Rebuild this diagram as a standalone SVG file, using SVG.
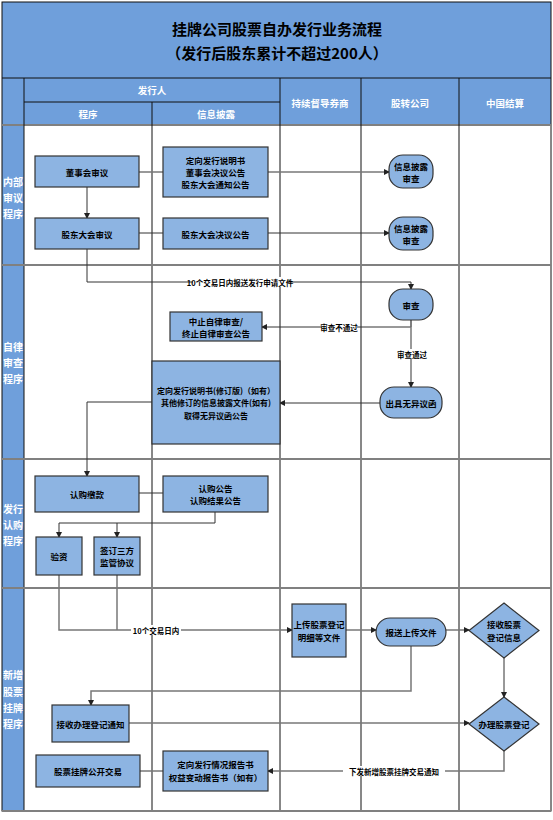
<svg xmlns="http://www.w3.org/2000/svg" width="553" height="820" viewBox="0 0 553 820">
<defs>
<marker id="ah" markerWidth="6" markerHeight="6" refX="5" refY="3" orient="auto" markerUnits="userSpaceOnUse">
<path d="M0,0 L6,3 L0,6 z" fill="#222"/>
</marker>
</defs>
<style>
text{font-family:"Noto Sans CJK SC","Noto Sans",sans-serif;font-weight:bold;text-anchor:middle;dominant-baseline:central}
.title{font-size:15px;fill:#000}
.hd{font-size:9.5px;fill:#fff}
.rl{font-size:10px;fill:#fff}
.bt{font-size:8.5px;fill:#000}
.lb{font-size:7.5px;fill:#000}
.box{fill:#8DB4E2;stroke:#333;stroke-width:1.2}
.grid{stroke:#111;stroke-width:1;fill:none}
.sec{stroke:#808080;stroke-width:2;fill:none}
.ln{stroke:#333;stroke-width:1;fill:none}
.lg{stroke:#777;stroke-width:1.5;fill:none}
.bg{fill:#fff}
</style>
<rect x="0" y="0" width="553" height="820" fill="#fff"/>
<g id="table">
<rect x="2" y="2" width="549" height="123" fill="#6F9FDB"/>
<rect x="2" y="125" width="22" height="686" fill="#6F9FDB"/>
<rect x="2" y="2" width="549" height="809" class="grid" stroke="#555"/>
<line x1="2" y1="78" x2="551" y2="78" class="grid"/>
<line x1="24" y1="102" x2="280" y2="102" class="grid"/>
<line x1="2" y1="125" x2="551" y2="125" class="sec"/>
<line x1="24" y1="78" x2="24" y2="811" class="grid"/>
<line x1="152" y1="102" x2="152" y2="811" class="grid"/>
<line x1="280" y1="78" x2="280" y2="811" class="grid"/>
<line x1="361" y1="78" x2="361" y2="811" class="grid"/>
<line x1="459" y1="78" x2="459" y2="811" class="grid"/>
<line x1="2" y1="265" x2="551" y2="265" class="sec"/>
<line x1="2" y1="459" x2="551" y2="459" class="sec"/>
<line x1="2" y1="588" x2="551" y2="588" class="sec"/>
<line x1="2" y1="811" x2="551" y2="811" class="sec"/>
<text class="title" x="277" y="28">挂牌公司股票自办发行业务流程</text>
<text class="title" x="277" y="52">（发行后股东累计不超过200人）</text>
<text class="hd" x="152" y="90">发行人</text>
<text class="hd" x="88" y="114">程序</text>
<text class="hd" x="216" y="114">信息披露</text>
<text class="hd" x="320" y="103">持续督导券商</text>
<text class="hd" x="410" y="103">股转公司</text>
<text class="hd" x="505" y="103">中国结算</text>
<text class="rl" x="13" y="181">内部</text>
<text class="rl" x="13" y="197">审议</text>
<text class="rl" x="13" y="213">程序</text>
<text class="rl" x="13" y="346">自律</text>
<text class="rl" x="13" y="362">审查</text>
<text class="rl" x="13" y="378">程序</text>
<text class="rl" x="13" y="508">发行</text>
<text class="rl" x="13" y="524">认购</text>
<text class="rl" x="13" y="540">程序</text>
<text class="rl" x="13" y="674">新增</text>
<text class="rl" x="13" y="691">股票</text>
<text class="rl" x="13" y="707">挂牌</text>
<text class="rl" x="13" y="723">程序</text>
</g>
<g id="connectors">
<path class="lg" d="M139,172 H389" marker-end="url(#ah)"/>
<path class="ln" d="M87,187 V218" marker-end="url(#ah)"/>
<path class="ln" d="M139,233 H389" marker-end="url(#ah)"/>
<path class="ln" d="M87,249 V282 H411 V289" marker-end="url(#ah)"/>
<rect class="bg" x="193" y="277" width="94" height="10"/>
<text class="lb" x="240" y="282">10个交易日内报送发行申请文件</text>
<path class="ln" d="M411,320 V327 H262" marker-end="url(#ah)"/>
<rect class="bg" x="322" y="322" width="35" height="10"/>
<text class="lb" x="339" y="327">审查不通过</text>
<path class="lg" d="M411,320 V387" marker-end="url(#ah)"/>
<rect class="bg" x="397" y="349" width="30" height="10"/>
<text class="lb" x="412" y="354">审查通过</text>
<path class="ln" d="M380,403 H280" marker-end="url(#ah)"/>
<path class="ln" d="M152,402 H87 V476" marker-end="url(#ah)"/>
<path class="ln" d="M139,493 H163"/>
<path class="ln" d="M215,512 V523 H59 V537" marker-end="url(#ah)"/>
<path class="ln" d="M117,523 V537" marker-end="url(#ah)"/>
<path class="lg" d="M59,575 V630 H292" marker-end="url(#ah)"/>
<path class="lg" d="M117,575 V630"/>
<rect class="bg" x="131" y="625" width="50" height="10"/>
<text class="lb" x="156" y="630">10个交易日内</text>
<path class="lg" d="M346,630 H376" marker-end="url(#ah)"/>
<path class="lg" d="M446,630 H469" marker-end="url(#ah)"/>
<path class="ln" d="M504,658 V697" marker-end="url(#ah)"/>
<path class="lg" d="M411,646 V691 H91 V705" marker-end="url(#ah)"/>
<path class="lg" d="M129,723 H469" marker-end="url(#ah)"/>
<path class="lg" d="M504,751 V771 H268" marker-end="url(#ah)"/>
<rect class="bg" x="343" y="766" width="102" height="10"/>
<text class="lb" x="394" y="771">下发新增股票挂牌交易通知</text>
<path class="lg" d="M163,771 H140"/>
</g>
<g id="n_dongshihui">
<rect class="box" x="35" y="156" width="104" height="31"/>
<text class="bt" x="87" y="171.5">董事会审议</text>
</g>
<g id="n_info1">
<rect class="box" x="163" y="147" width="105" height="50"/>
<text class="bt" x="215.5" y="160">定向发行说明书</text>
<text class="bt" x="215.5" y="172">董事会决议公告</text>
<text class="bt" x="215.5" y="184">股东大会通知公告</text>
</g>
<g id="n_review1">
<rect class="box" x="389" y="155" width="44" height="33" rx="14"/>
<text class="bt" x="411" y="166">信息披露</text>
<text class="bt" x="411" y="178">审查</text>
</g>
<g id="n_gudong">
<rect class="box" x="35" y="218" width="104" height="31"/>
<text class="bt" x="87" y="233.5">股东大会审议</text>
</g>
<g id="n_info2">
<rect class="box" x="163" y="218" width="105" height="31"/>
<text class="bt" x="215.5" y="233.5">股东大会决议公告</text>
</g>
<g id="n_review2">
<rect class="box" x="389" y="217" width="44" height="33" rx="14"/>
<text class="bt" x="411" y="228">信息披露</text>
<text class="bt" x="411" y="240">审查</text>
</g>
<g id="n_shencha">
<rect class="box" x="389" y="289" width="44" height="31" rx="14"/>
<text class="bt" x="411" y="304.5">审查</text>
</g>
<g id="n_zhongzhi">
<rect class="box" x="170" y="312" width="92" height="29"/>
<text class="bt" x="216" y="320.5">中止自律审查/</text>
<text class="bt" x="216" y="332.5">终止自律审查公告</text>
</g>
<g id="n_wuyiyi">
<rect class="box" x="380" y="387" width="62" height="31" rx="14"/>
<text class="bt" x="411" y="402.5">出具无异议函</text>
</g>
<g id="n_revised">
<rect class="box" x="152" y="361" width="128" height="83"/>
<text class="bt" x="216" y="390" font-size="8px" style="font-size:8px">定向发行说明书(修订版)（如有）</text>
<text class="bt" x="216" y="402" style="font-size:8px">其他修订的信息披露文件(如有)</text>
<text class="bt" x="216" y="415" style="font-size:8px">取得无异议函公告</text>
</g>
<g id="n_rengou">
<rect class="box" x="35" y="476" width="104" height="36"/>
<text class="bt" x="87" y="494">认购缴款</text>
</g>
<g id="n_rengougg">
<rect class="box" x="163" y="476" width="105" height="36"/>
<text class="bt" x="215.5" y="488">认购公告</text>
<text class="bt" x="215.5" y="500">认购结果公告</text>
</g>
<g id="n_yanzi">
<rect class="box" x="36" y="537" width="46" height="38"/>
<text class="bt" x="59" y="556">验资</text>
</g>
<g id="n_sanfang">
<rect class="box" x="94" y="537" width="46" height="38"/>
<text class="bt" x="117" y="550">签订三方</text>
<text class="bt" x="117" y="562">监管协议</text>
</g>
<g id="n_upload">
<rect class="box" x="292" y="604" width="54" height="53"/>
<text class="bt" x="319" y="624">上传股票登记</text>
<text class="bt" x="319" y="637">明细等文件</text>
</g>
<g id="n_baosong">
<rect class="box" x="376" y="618" width="70" height="28" rx="14"/>
<text class="bt" x="411" y="632">报送上传文件</text>
</g>
<g id="n_jieshou">
<polygon class="box" points="504,603 539,630.5 504,658 469,630.5"/>
<text class="bt" x="504" y="624">接收股票</text>
<text class="bt" x="504" y="637">登记信息</text>
</g>
<g id="n_banli">
<polygon class="box" points="504,697 539,724 504,751 469,724"/>
<text class="bt" x="504" y="724">办理股票登记</text>
</g>
<g id="n_tongzhi">
<rect class="box" x="52" y="705" width="77" height="37"/>
<text class="bt" x="90.5" y="723.5">接收办理登记通知</text>
</g>
<g id="n_baogao">
<rect class="box" x="163" y="751" width="105" height="40"/>
<text class="bt" x="215.5" y="764">定向发行情况报告书</text>
<text class="bt" x="215.5" y="777">权益变动报告书（如有）</text>
</g>
<g id="n_guapai">
<rect class="box" x="36" y="755" width="104" height="32"/>
<text class="bt" x="88" y="771">股票挂牌公开交易</text>
</g>
</svg>
